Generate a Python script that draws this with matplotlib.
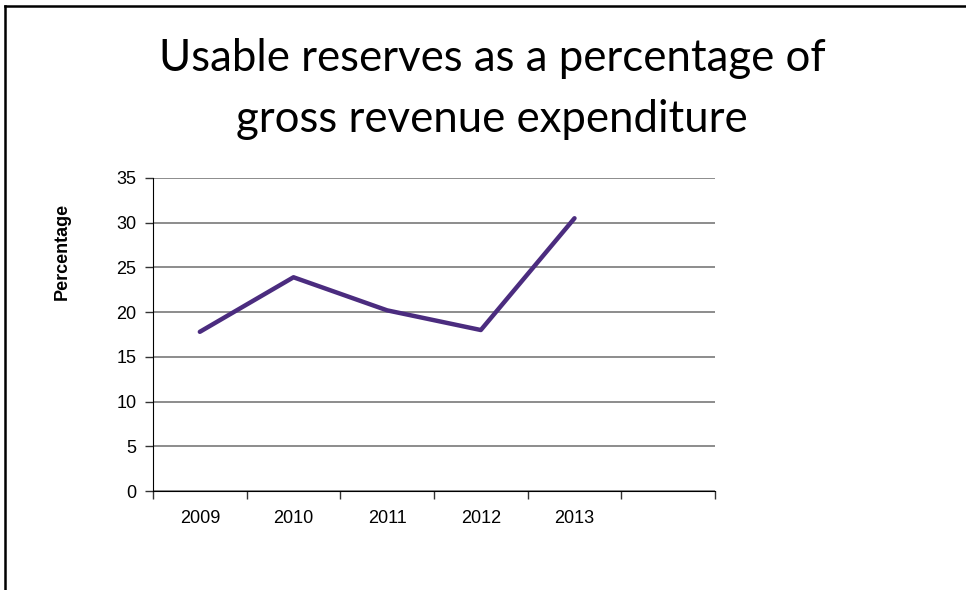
import matplotlib
matplotlib.use('Agg')
import matplotlib.pyplot as plt
from matplotlib.lines import Line2D

# data
years = ['2009', '2010', '2011', '2012', '2013']
percentage = [17.8, 23.9, 20.2, 18.0, 30.5]
n_slots = 6  # the category axis has one empty slot on the right
y_ticks = [0, 5, 10, 15, 20, 25, 30, 35]

W, H = 966, 590
fig = plt.figure(figsize=(W / 100, H / 100), dpi=100, facecolor='white')
ax = fig.add_axes([153 / W, 1 - 491 / H, (715 - 153) / W, (491 - 178) / H])

x = [i + 0.5 for i in range(len(years))]
ax.plot(x, percentage, color='#4b2c7f', linewidth=3.2, solid_capstyle='round', zorder=3)

ax.set_xlim(0, n_slots)
ax.set_ylim(0, 35)
ax.set_yticks(y_ticks)
ax.set_yticklabels([str(v) for v in y_ticks])
ax.grid(axis='y', color='#8c8c8c', linewidth=1.4)
ax.set_axisbelow(True)

# category boundaries carry the tick marks, labels sit at the centres
ax.set_xticks(range(n_slots + 1))
ax.set_xticklabels([])
ax.set_xticks(x, minor=True)
ax.set_xticklabels(years, minor=True)
ax.tick_params(axis='x', which='minor', length=0, pad=14)
ax.tick_params(axis='x', which='major', length=6, width=1, color='#333333')
ax.tick_params(axis='y', length=6, width=1, color='#333333', pad=6)
for lab in ax.get_xticklabels(minor=True) + ax.get_yticklabels():
    lab.set_fontfamily('Liberation Sans')
    lab.set_fontsize(13)

for s in ['top', 'right']:
    ax.spines[s].set_visible(False)
ax.spines['left'].set_color('black')
ax.spines['bottom'].set_color('black')

fig.text(62 / W, 1 - 251 / H, 'Percentage', rotation=90, ha='center', va='center',
         fontsize=13, fontweight='bold', family='Liberation Sans')

fig.text(492 / W, 1 - 38 / H, 'Usable reserves as a percentage of\ngross revenue expenditure',
         ha='center', va='top', fontsize=31.5, family='Lato', linespacing=1.62)

# slide frame (only top and left edges show in the crop)
fig.add_artist(Line2D([5 / W, 1], [1 - 6 / H, 1 - 6 / H], transform=fig.transFigure,
                      color='black', linewidth=1.8))
fig.add_artist(Line2D([5 / W, 5 / W], [0, 1 - 6 / H], transform=fig.transFigure,
                      color='black', linewidth=1.8))

fig.savefig('out.png', dpi=100)
